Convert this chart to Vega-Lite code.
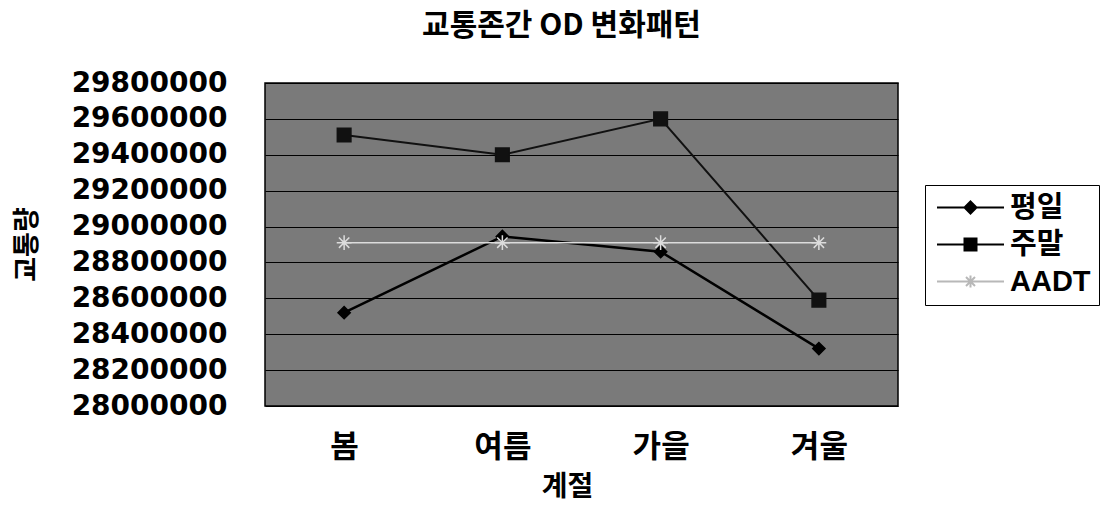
{
  "$schema": "https://vega.github.io/schema/vega-lite/v6.json",
  "width": 633,
  "height": 323,
  "autosize": {"type": "none"},
  "padding": {"left": 265, "top": 83, "right": 211, "bottom": 99},
  "background": "white",
  "title": {"text": "교통존간 OD 변화패턴", "frame": "group", "anchor": "middle", "dx": -20, "dy": 29, "offset": 42, "baseline": "middle", "font": "Noto Sans CJK KR", "fontSize": 30, "fontWeight": "bold", "color": "black"},
  "config": {"view": {"fill": "#7a7a7a", "stroke": "black", "strokeWidth": 1.5}},
  "data": {"values": [
    {"season": "봄", "series": "평일", "value": 28520000},
    {"season": "여름", "series": "평일", "value": 28945000},
    {"season": "가을", "series": "평일", "value": 28860000},
    {"season": "겨울", "series": "평일", "value": 28320000},
    {"season": "봄", "series": "주말", "value": 29510000},
    {"season": "여름", "series": "주말", "value": 29400000},
    {"season": "가을", "series": "주말", "value": 29600000},
    {"season": "겨울", "series": "주말", "value": 28590000},
    {"season": "봄", "series": "AADT", "value": 28910000},
    {"season": "여름", "series": "AADT", "value": 28910000},
    {"season": "가을", "series": "AADT", "value": 28910000},
    {"season": "겨울", "series": "AADT", "value": 28910000}
  ]},
  "encoding": {
    "x": {"field": "season", "type": "nominal", "sort": ["봄", "여름", "가을", "겨울"], "scale": {"type": "point", "padding": 0.5},
      "axis": {"title": "계절", "labelFont": "Noto Sans CJK KR", "labelFontSize": 31, "labelFontWeight": "bold", "labelColor": "black", "labelAngle": 0, "labelBaseline": "middle", "labelPadding": 41, "ticks": false, "tickSize": 0, "domain": false, "grid": false,
        "titleFont": "Noto Sans CJK KR", "titleFontSize": 28, "titleFontWeight": "bold", "titleColor": "black", "titleX": 302, "titleY": 81, "titleBaseline": "middle", "titleAlign": "center"}},
    "y": {"field": "value", "type": "quantitative", "scale": {"domain": [28000000, 29800000], "nice": false, "zero": false},
      "axis": {"title": "교통량", "values": [28000000, 28200000, 28400000, 28600000, 28800000, 29000000, 29200000, 29400000, 29600000, 29800000], "format": "d",
        "labelFont": "DejaVu Sans", "labelFontSize": 28, "labelFontWeight": "bold", "labelColor": "black", "labelPadding": 38, "labelFlush": false, "labelOverlap": false,
        "ticks": false, "tickSize": 0, "domain": false, "grid": true, "gridColor": "black", "gridWidth": 1.2, "gridOpacity": 1,
        "titleFont": "Noto Sans CJK KR", "titleFontSize": 27, "titleFontWeight": "bold", "titleColor": "black", "titleX": -238, "titleY": 161, "titleAngle": -90, "titleAlign": "center", "titleBaseline": "middle"}}
  },
  "layer": [
    {
      "mark": {"type": "line"},
      "encoding": {
        "color": {"field": "series", "type": "nominal", "scale": {"domain": ["평일", "주말", "AADT"], "range": ["#000000", "#111111", "#dcdcdc"]}, "legend": null},
        "strokeWidth": {"field": "series", "type": "nominal", "scale": {"domain": ["평일", "주말", "AADT"], "range": [2.5, 1.5, 2]}, "legend": null}
      }
    },
    {
      "mark": {"type": "point", "filled": true, "opacity": 1, "strokeWidth": 1.5},
      "encoding": {
        "color": {"field": "series", "type": "nominal", "scale": {"domain": ["평일", "주말", "AADT"], "range": ["#000000", "#111111", "#dcdcdc"]}, "legend": null},
        "stroke": {"field": "series", "type": "nominal", "scale": {"domain": ["평일", "주말", "AADT"], "range": ["#000000", "#111111", "#dcdcdc"]}, "legend": null},
        "shape": {"field": "series", "type": "nominal", "scale": {"domain": ["평일", "주말", "AADT"], "range": ["diamond", "square", "M-1,0H1M0,-1V1M-0.7,-0.7L0.7,0.7M-0.7,0.7L0.7,-0.7"]}, "legend": null},
        "size": {"field": "series", "type": "nominal", "scale": {"domain": ["평일", "주말", "AADT"], "range": [150, 220, 150]}, "legend": null}
      }
    },
    {
      "mark": {"type": "point", "filled": true, "opacity": 0},
      "encoding": {
        "fill": {"field": "series", "type": "nominal", "scale": {"domain": ["평일", "주말", "AADT"], "range": ["#000000", "#000000", "#b8b8b8"]},
          "legend": {"title": null, "orient": "none", "legendX": 660, "legendY": 102, "labelFont": "Liberation Sans, Noto Sans CJK KR", "labelFontSize": 29, "labelFontWeight": "bold", "labelColor": "black", "symbolSize": 400, "symbolOffset": 23, "symbolStrokeWidth": 2, "labelOffset": 25, "padding": 8, "rowPadding": 7, "strokeColor": "black", "fillColor": "white", "symbolOpacity": 1}},
        "stroke": {"field": "series", "type": "nominal", "scale": {"domain": ["평일", "주말", "AADT"], "range": ["#000000", "#000000", "#b8b8b8"]},
          "legend": {"title": null, "orient": "none", "legendX": 660, "legendY": 102, "labelFont": "Liberation Sans, Noto Sans CJK KR", "labelFontSize": 29, "labelFontWeight": "bold", "labelColor": "black", "symbolSize": 400, "symbolOffset": 23, "symbolStrokeWidth": 2, "labelOffset": 25, "padding": 8, "rowPadding": 7, "strokeColor": "black", "fillColor": "white", "symbolOpacity": 1}},
        "shape": {"field": "series", "type": "nominal", "scale": {"domain": ["평일", "주말", "AADT"], "range": ["M-3.35,0H3.35M0,-0.6L0.6,0L0,0.6L-0.6,0Z", "M-3.35,0H3.35M-0.6,-0.6H0.6V0.6H-0.6Z", "M-3.35,0H3.35M-0.45,-0.45L0.45,0.45M-0.45,0.45L0.45,-0.45M0,-0.6V0.6"]},
          "legend": {"title": null, "orient": "none", "legendX": 660, "legendY": 102, "labelFont": "Liberation Sans, Noto Sans CJK KR", "labelFontSize": 29, "labelFontWeight": "bold", "labelColor": "black", "symbolSize": 400, "symbolOffset": 23, "symbolStrokeWidth": 2, "labelOffset": 25, "padding": 8, "rowPadding": 7, "strokeColor": "black", "fillColor": "white", "symbolOpacity": 1}}
      }
    }
  ],
  "resolve": {
    "scale": {"shape": "independent", "stroke": "independent", "fill": "independent", "size": "independent"},
    "legend": {"shape": "independent", "stroke": "independent", "fill": "independent"}
  }
}
